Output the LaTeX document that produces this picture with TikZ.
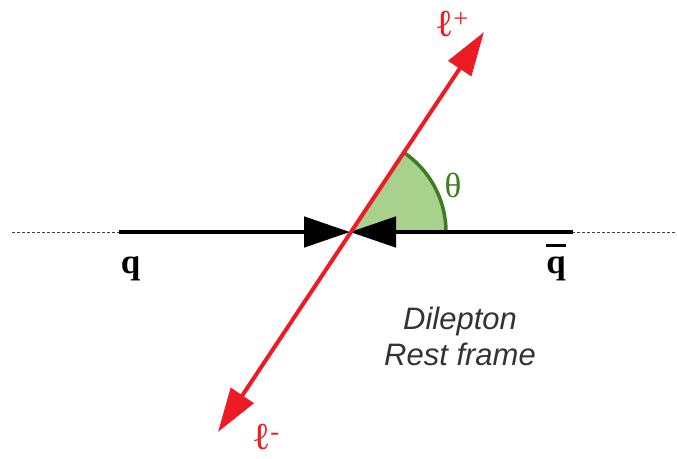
\documentclass[tikz,border=0pt]{standalone}
\usepackage{fontspec}
\setmainfont{Liberation Serif}
\setsansfont{Liberation Sans}
\usetikzlibrary{arrows.meta}
\definecolor{lred}{HTML}{ED1C24}
\definecolor{sectorfill}{HTML}{A9D18E}
\definecolor{sectordark}{HTML}{3C7D22}
\definecolor{textgray}{HTML}{333333}
\begin{document}
\begin{tikzpicture}[x=1pt,y=-1pt,
  axisdash/.style={draw=black!75, line width=0.9pt, dash pattern=on 3pt off 2pt},
  beamline/.style={draw=black, line width=4.8pt, -{Triangle[length=46pt,width=30pt]}},
  leptonline/.style={draw=lred, line width=4pt, {Triangle[length=44pt,width=27pt]}-{Triangle[length=44pt,width=27pt]}},
  sector/.style={fill=sectorfill},
  sectorarc/.style={draw=sectordark, line width=3.5pt},
  leptonlabel/.style={text=lred, inner sep=0pt, font=\fontsize{38}{38}\selectfont},
  quarklabel/.style={font=\fontsize{35}{35}\selectfont\bfseries, anchor=base, inner sep=0pt},
]
\useasboundingbox (0,0) rectangle (677,458);
\coordinate (C) at (350,232);
\coordinate (U) at (484,32);
\coordinate (L) at (218,432);
\coordinate (qL) at (119,232);
\coordinate (qR) at (573,232);
\coordinate (dL) at (12,232);
\coordinate (dR) at (677,232);
% dashed axis
\draw[axisdash] (dL) -- (dR);
% angle sector
\fill[sector] (C) -- ++(96,0) arc[start angle=0, end angle=-56.4, radius=96] -- cycle;
\draw[sectorarc] ([shift={(96,0)}]C) arc[start angle=0, end angle=-56.4, radius=96];
% beams
\draw[beamline] (qL) -- (C);
\draw[beamline] (qR) -- (C);
% leptons
\draw[leptonline] (L) -- (U);
% labels
\node[leptonlabel] (lp) at (452,24) {ℓ\textsuperscript{+}};
\node[leptonlabel] (lm) at (266,437) {ℓ\textsuperscript{-}};
\node[text=sectordark, font=\fontsize{35}{35}\selectfont, inner sep=0pt] (th) at (453,185) {θ};
\node[quarklabel] (q) at (130.5,273) {q};
\node[quarklabel] (qb) at (556,273) {q};
\draw[line width=3pt] ([shift={(-10,-28)}]qb.base) -- ([shift={(10,-28)}]qb.base);
\node[font=\fontsize{31}{36}\selectfont\sffamily\itshape, text=textgray, align=center, inner sep=0pt] (frame) at (460,336) {Dilepton\\Rest frame};
\end{tikzpicture}
\end{document}
